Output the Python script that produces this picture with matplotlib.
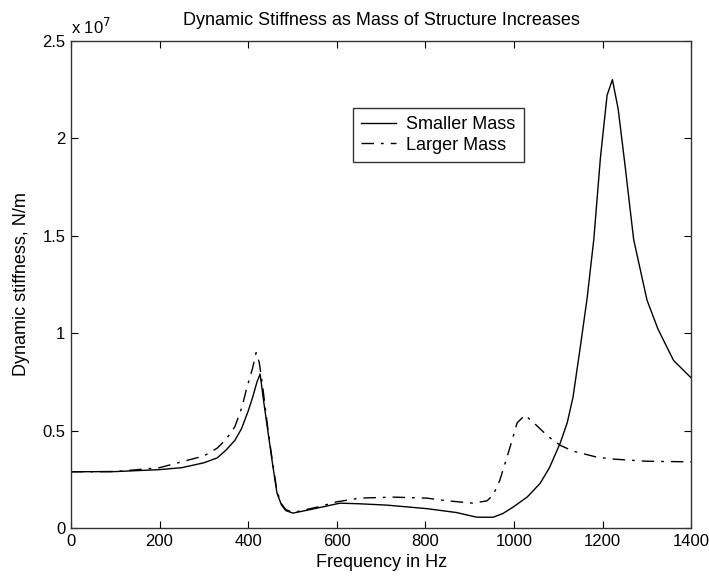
import matplotlib
matplotlib.use("Agg")
import matplotlib.pyplot as plt
from matplotlib.ticker import FuncFormatter

plt.rcParams['font.family'] = ['Liberation Sans', 'DejaVu Sans']

# frequency (Hz) and dynamic stiffness (N/m)
freq_small = [0, 100, 200, 250, 300, 330, 350, 370, 385, 400, 410, 420, 427,
              435, 445, 455, 465, 475, 485, 501, 540, 607, 650, 713, 803, 870,
              916, 953, 975, 998, 1030, 1059, 1080, 1104, 1120, 1133, 1149,
              1165, 1180, 1195, 1210, 1222, 1235, 1250, 1270, 1300, 1325,
              1360, 1400]
stiff_small = [0.289, 0.29, 0.30, 0.31, 0.335, 0.36, 0.40, 0.45, 0.51, 0.60,
               0.67, 0.75, 0.79, 0.65, 0.49, 0.33, 0.18, 0.12, 0.09, 0.077,
               0.095, 0.128, 0.125, 0.118, 0.10, 0.08, 0.056, 0.056, 0.075,
               0.108, 0.16, 0.23, 0.31, 0.435, 0.54, 0.67, 0.92, 1.18, 1.48,
               1.90, 2.22, 2.30, 2.15, 1.87, 1.48, 1.17, 1.02, 0.86, 0.77]

freq_large = [0, 100, 200, 250, 300, 330, 350, 370, 386, 397, 410, 418, 425,
              432, 445, 455, 465, 475, 485, 501, 560, 600, 652, 727, 803, 850,
              908, 939, 953, 968, 991, 1007, 1025, 1054, 1077, 1104, 1133,
              1187, 1224, 1300, 1400]
stiff_large = [0.289, 0.29, 0.31, 0.34, 0.37, 0.41, 0.455, 0.52, 0.62, 0.72,
               0.82, 0.90, 0.85, 0.74, 0.50, 0.34, 0.19, 0.125, 0.095, 0.08,
               0.11, 0.135, 0.154, 0.159, 0.154, 0.14, 0.128, 0.14, 0.17,
               0.246, 0.415, 0.54, 0.58, 0.52, 0.47, 0.425, 0.395, 0.364,
               0.354, 0.343, 0.34]

scale = 1e7
stiff_small = [v * scale for v in stiff_small]
stiff_large = [v * scale for v in stiff_large]

fig = plt.figure(figsize=(7.09, 5.81), dpi=100)
ax = fig.add_axes([0.100, 0.091, 0.875, 0.839])

ax.plot(freq_small, stiff_small, color='black', lw=1.0, label='Smaller Mass')
ax.plot(freq_large, stiff_large, color='black', lw=1.0,
        linestyle=(0, (9, 5, 2, 5)), label='Larger Mass')

ax.set_xlim(0, 1400)
ax.set_ylim(0, 2.5e7)
ax.set_xticks([0, 200, 400, 600, 800, 1000, 1200, 1400])
ax.set_yticks([0, 0.5e7, 1e7, 1.5e7, 2e7, 2.5e7])
ax.yaxis.set_major_formatter(FuncFormatter(lambda v, p: '%g' % (v / scale)))
ax.tick_params(direction='in', top=True, right=True, length=5,
               labelsize=12, colors='black', pad=4)
for s in ax.spines.values():
    s.set_color('#333333')
    s.set_linewidth(1.0)

ax.text(0.0, 1.008, r'x 10$^7$', transform=ax.transAxes, fontsize=12,
        ha='left', va='bottom')
ax.set_title('Dynamic Stiffness as Mass of Structure Increases',
             fontsize=13, pad=11)
ax.set_xlabel('Frequency in Hz', fontsize=13, labelpad=4)
ax.set_ylabel('Dynamic stiffness, N/m', fontsize=13, labelpad=9)

leg = ax.legend(loc='upper left', bbox_to_anchor=(0.455, 0.862),
                fontsize=13, frameon=True, fancybox=False, handlelength=1.9,
                borderpad=0.45, labelspacing=0.2, handletextpad=0.6,
                borderaxespad=0)
leg.get_frame().set_edgecolor('black')
leg.get_frame().set_linewidth(1.0)

fig.savefig('out.png', dpi=100)
